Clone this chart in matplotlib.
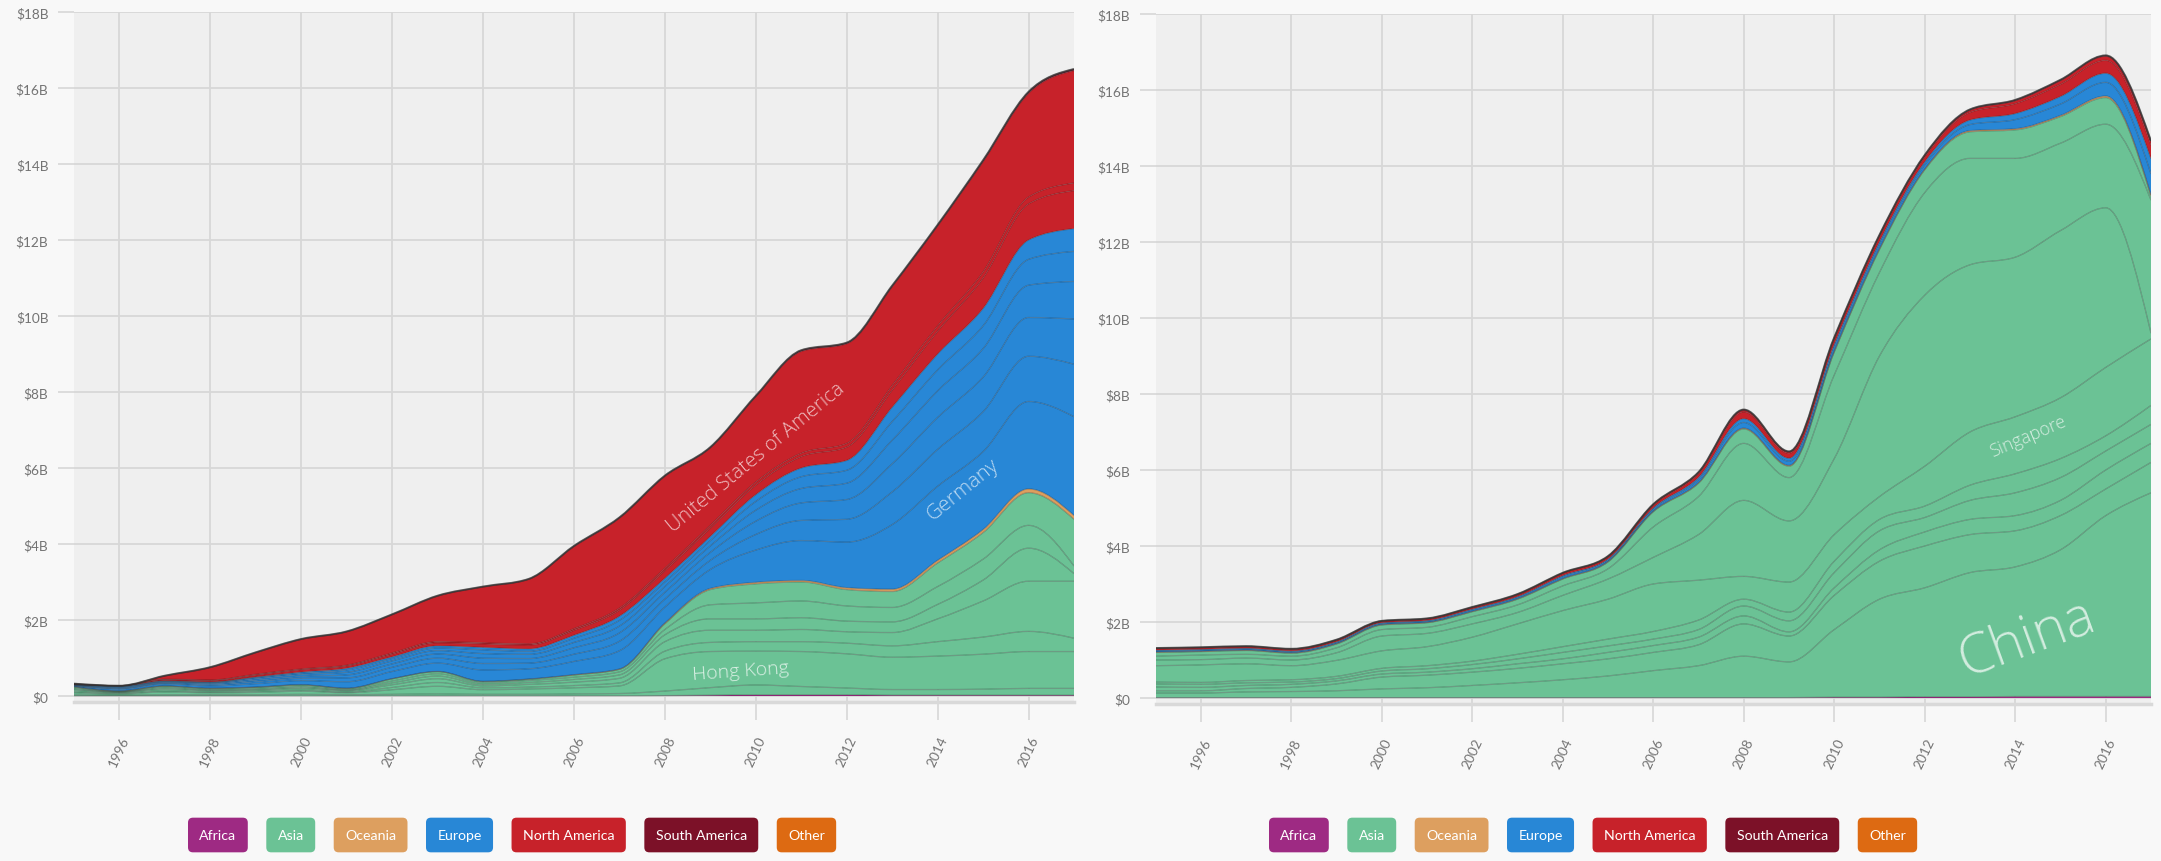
import numpy as np
import matplotlib
matplotlib.use("Agg")
import matplotlib.pyplot as plt
from matplotlib.path import Path
from matplotlib.patches import PathPatch

plt.rcParams['font.family'] = ['Lato', 'DejaVu Sans']

W, H = 2161, 862

years = list(range(1995, 2018))

continents = ['Africa', 'Asia', 'Oceania', 'Europe', 'North America', 'South America', 'Other']
colors = {'Africa': '#9e2a83', 'Asia': '#6bc295', 'Oceania': '#dd9f5f', 'Europe': '#2887d6',
          'North America': '#c7222a', 'South America': '#7c1128', 'Other': '#dd6a12'}

# ---- left chart, values in $B per year (1995..2017)
l_africa = [0.005, 0.005, 0.005, 0.005, 0.005, 0.005, 0.005, 0.005, 0.005, 0.005, 0.005, 0.005, 0.005, 0.01, 0.02, 0.03, 0.03, 0.03, 0.02, 0.02, 0.02, 0.02, 0.02]
l_japan = [.03, .02, .03, .03, .03, .04, .03, .04, .05, .04, .04, .05, .06, .12, .2, .26, .22, .18, .15, .15, .16, .18, .18]
l_hongkong = [.05, .03, .07, .05, .06, .08, .05, .12, .2, .12, .14, .16, .2, .85, .95, .89, .92, .9, .85, .88, .92, .97, .97]
l_korea = [.03, .02, .03, .02, .03, .03, .02, .06, .1, .05, .05, .06, .08, .2, .24, .25, .26, .28, .3, .38, .45, .53, .35]
l_taiwan = [.04, .02, .04, .03, .03, .04, .03, .07, .1, .05, .07, .09, .12, .25, .32, .3, .32, .3, .35, .6, .95, 1.32, 1.5]
l_india = [.03, .01, .03, .02, .02, .03, .02, .05, .07, .04, .05, .07, .09, .18, .3, .3, .31, .28, .28, .38, .55, .87, .2]
l_singapore = [.03, .01, .03, .02, .03, .03, .02, .05, .06, .04, .05, .06, .08, .14, .37, .42, .44, .4, .38, .47, .55, .6, .2]
l_china = [.025, .015, .025, .025, .025, .035, .025, .055, .055, .035, .035, .055, .065, .15, .4, .5, .5, .43, .42, .62, .7, .86, 1.23]
l_oceania = [.005, .005, .005, .005, .005, .005, .005, .005, .005, .005, .005, .01, .01, .02, .03, .04, .04, .05, .06, .07, .08, .1, .1]
l_germany = [.02, .04, .05, .06, .09, .11, .17, .19, .22, .3, .27, .35, .48, .42, .5, .85, 1.05, 1.2, 1.7, 1.95, 2.05, 2.3, 2.6]
l_uk = [.01, .02, .02, .03, .05, .06, .10, .11, .13, .17, .15, .19, .25, .21, .24, .41, .53, .60, .86, .97, 1.05, 1.19, 1.38]
l_france = [.01, .02, .02, .03, .04, .05, .08, .09, .11, .14, .12, .17, .22, .18, .21, .35, .46, .52, .74, .84, .91, 1.02, 1.19]
l_netherlands = [.01, .02, .02, .02, .04, .05, .07, .08, .09, .12, .11, .14, .18, .15, .17, .29, .38, .43, .62, .70, .75, .85, .99]
l_italy = [.005, .01, .01, .015, .03, .035, .06, .06, .07, .1, .08, .11, .15, .12, .14, .23, .31, .34, .49, .55, .60, .68, .79]
l_spain = [.005, .015, .015, .01, .015, .03, .045, .045, .055, .065, .065, .08, .11, .1, .11, .18, .23, .26, .38, .42, .46, .51, .60]
l_mexico = [.01, .01, .03, .04, .05, .06, .06, .07, .08, .09, .1, .13, .16, .2, .22, .25, .3, .35, .45, .6, .8, .95, 1.0]
l_canada = [0, 0, .01, .01, .02, .02, .02, .03, .03, .03, .03, .04, .05, .06, .07, .08, .09, .1, .12, .14, .16, .18, .2]
l_usa = [.01, 0, .09, .33, .57, .78, .88, 1.01, 1.2, 1.47, 1.7, 2.16, 2.37, 2.42, 2.04, 2.25, 2.68, 2.62, 2.6, 2.63, 2.9, 2.73, 2.96]
l_brazil = [0, 0, .005, .01, .01, .01, .01, .01, .01, .01, .01, .02, .02, .02, .02, .02, .03, .03, .03, .03, .04, .04, .04]

left_layers = [
    ('Africa', l_africa),
    ('Asia', l_japan), ('Asia', l_hongkong), ('Asia', l_korea), ('Asia', l_taiwan),
    ('Asia', l_india), ('Asia', l_singapore), ('Asia', l_china),
    ('Oceania', l_oceania),
    ('Europe', l_germany), ('Europe', l_uk), ('Europe', l_france), ('Europe', l_netherlands),
    ('Europe', l_italy), ('Europe', l_spain),
    ('North America', l_mexico), ('North America', l_canada), ('North America', l_usa),
    ('South America', l_brazil),
]

# ---- right chart
r_africa = [.01, .01, .01, .01, .01, .01, .01, .01, .01, .01, .01, .01, .01, .01, .01, .02, .02, .03, .03, .04, .04, .04, .04]
r_china = [.12, .12, .15, .16, .18, .23, .26, .32, .39, .47, .57, .71, .84, 1.09, .94, 1.78, 2.58, 2.87, 3.27, 3.41, 3.86, 4.76, 5.36]
r_korea = [.06, .06, .09, .11, .18, .31, .33, .35, .38, .42, .45, .48, .55, .85, .68, .9, 1.0, 1.1, 1.0, .95, .9, .7, .8]
r_japan = [.1, .09, .08, .08, .08, .08, .08, .09, .12, .13, .17, .18, .2, .21, .11, .2, .3, .37, .4, .4, .4, .5, .5]
r_malaysia = [.08, .08, .07, .06, .06, .08, .09, .11, .13, .17, .17, .17, .2, .26, .29, .4, .5, .38, .5, .6, .6, .5, .5]
r_thailand = [.05, .05, .06, .06, .06, .07, .08, .09, .12, .15, .18, .2, .25, .18, .23, .3, .3, .3, .4, .5, .5, .4, .5]
r_singapore = [.43, .46, .44, .37, .42, .46, .5, .63, .8, .95, 1.05, 1.25, 1.05, .6, .79, .7, .6, 1.05, 1.4, 1.5, 1.6, 1.8, 1.75]
r_hongkong = [.15, .14, .15, .15, .2, .39, .35, .35, .3, .4, .53, .7, 1.2, 2.0, 1.61, 2.0, 3.7, 4.5, 4.4, 4.2, 4.4, 4.2, .15]
r_taiwan = [.1, .12, .1, .1, .13, .17, .16, .19, .2, .25, .27, .8, 1.0, 1.5, 1.14, 2.2, 2.2, 2.7, 2.8, 2.6, 2.3, 2.2, 3.5]
r_india = [.1, .09, .1, .08, .1, .12, .12, .13, .15, .18, .18, .4, .35, .38, .3, .6, .6, .6, .7, .75, .7, .7, .1]
r_oceania = [.01, .01, .01, .01, .01, .01, .01, .01, .01, .01, .01, .01, .015, .02, .02, .02, .02, .02, .03, .03, .03, .04, .04]
r_germany = [.03, .03, .03, .03, .03, .03, .03, .04, .04, .05, .04, .05, .08, .15, .11, .11, .11, .11, .16, .24, .3, .36, .55]
r_uk = [.02, .02, .02, .02, .02, .02, .02, .02, .02, .03, .03, .04, .06, .1, .08, .08, .08, .08, .12, .16, .2, .24, .4]
r_usa = [.04, .04, .04, .04, .04, .035, .04, .04, .05, .06, .06, .07, .1, .18, .13, .13, .13, .13, .2, .26, .32, .34, .35]
r_canada = [.01, .01, .01, .01, .01, .01, .01, .01, .01, .01, .01, .02, .03, .05, .04, .04, .04, .04, .06, .08, .1, .11, .1]
r_brazil = [.005, .005, .005, .005, .005, .005, .005, .005, .005, .005, .005, .01, .01, .01, .01, .01, .01, .01, .02, .02, .02, .02, .02]

right_layers = [
    ('Africa', r_africa),
    ('Asia', r_china), ('Asia', r_korea), ('Asia', r_japan), ('Asia', r_malaysia),
    ('Asia', r_thailand), ('Asia', r_singapore), ('Asia', r_hongkong), ('Asia', r_taiwan),
    ('Asia', r_india),
    ('Oceania', r_oceania),
    ('Europe', r_germany), ('Europe', r_uk),
    ('North America', r_usa), ('North America', r_canada),
    ('South America', r_brazil),
]

ytick_vals = [0, 2, 4, 6, 8, 10, 12, 14, 16, 18]
ytick_labels = ['$0', '$2B', '$4B', '$6B', '$8B', '$10B', '$12B', '$14B', '$16B', '$18B']
xtick_vals = [1996, 1998, 2000, 2002, 2004, 2006, 2008, 2010, 2012, 2014, 2016]


# monotone cubic (like d3.curveMonotoneX) -> bezier segments
def slopes(x, y):
    n = len(x)
    h = np.diff(x)
    s = np.diff(y) / h
    m = np.zeros(n)
    for i in range(1, n - 1):
        p = (s[i - 1] * h[i] + s[i] * h[i - 1]) / (h[i - 1] + h[i])
        m[i] = (np.sign(s[i - 1]) + np.sign(s[i])) * min(abs(s[i - 1]), abs(s[i]), 0.5 * abs(p))
    m[0] = (3 * s[0] - m[1]) / 2
    m[-1] = (3 * s[-1] - m[-2]) / 2
    return m


def segments(x, y):
    m = slopes(x, y)
    out = []
    for i in range(len(x) - 1):
        h = (x[i + 1] - x[i]) / 3
        out += [(x[i] + h, y[i] + m[i] * h), (x[i + 1] - h, y[i + 1] - m[i + 1] * h), (x[i + 1], y[i + 1])]
    return out


def curve(x, y):
    v = [(x[0], y[0])] + segments(x, y)
    c = [Path.MOVETO] + [Path.CURVE4] * (len(v) - 1)
    return Path(v, c)


def band(x, lo, hi):
    up = segments(x, hi)
    dn = segments(x[::-1], lo[::-1])
    v = [(x[0], hi[0])] + up + [(x[-1], lo[-1])] + dn + [(x[0], hi[0])]
    c = [Path.MOVETO] + [Path.CURVE4] * len(up) + [Path.LINETO] + [Path.CURVE4] * len(dn) + [Path.CLOSEPOLY]
    return Path(v, c)


def draw_stack(ax, layers):
    x = np.array(years, dtype=float)
    base = np.zeros(len(x))
    for cont, vals in layers:
        top = base + np.array(vals, dtype=float)
        ax.add_patch(PathPatch(band(x, base, top), fc=colors[cont], ec='none', zorder=2))
        ax.add_patch(PathPatch(curve(x, top), fc='none', ec=(0.1, 0.1, 0.1, 0.27), lw=0.9, zorder=3))
        base = top
    ax.add_patch(PathPatch(curve(x, base), fc='none', ec=(0.2, 0.2, 0.2, 0.75), lw=1.4, zorder=3))


def style_axes(ax):
    ax.set_facecolor('#efefef')
    ax.set_xlim(1995, 2017)
    ax.set_ylim(-6 / 38, 18)
    ax.set_xticks(xtick_vals)
    ax.set_xticklabels([str(v) for v in xtick_vals])
    ax.set_yticks(ytick_vals)
    ax.set_yticklabels(ytick_labels)
    ax.grid(True, color='#d7d7d7', lw=1.3)
    ax.set_axisbelow(True)
    for s in ['left', 'right', 'top']:
        ax.spines[s].set_visible(False)
    ax.spines['bottom'].set_color('#d9d9d9')
    ax.spines['bottom'].set_linewidth(2.5)
    ax.tick_params(axis='x', length=13, width=1.1, color='#d4d4d4', pad=10,
                   labelsize=9.8, labelcolor='#737373', labelrotation=65)
    ax.tick_params(axis='y', length=11.5, width=1.1, color='#d4d4d4', pad=7,
                   labelsize=9.8, labelcolor='#737373')


fig = plt.figure(figsize=(W / 100, H / 100), dpi=100, facecolor='#f8f8f8')
ax1 = fig.add_axes([74 / W, 1 - 703 / H, 1000 / W, 690 / H])
ax2 = fig.add_axes([1155.5 / W, 1 - 705 / H, 995.5 / W, 690 / H])

for ax, layers in [(ax1, left_layers), (ax2, right_layers)]:
    style_axes(ax)
    draw_stack(ax, layers)

lab = dict(family=['Open Sans', 'DejaVu Sans'], fontweight='light', ha='center', va='center',
           rotation_mode='anchor', zorder=4)
ax1.text(2010.0, 6.3, 'United States of America', fontsize=14.5, rotation=39.5, color=(1, 1, 1, 0.7), **lab)
ax1.text(2014.55, 5.45, 'Germany', fontsize=15, rotation=39, color=(1, 1, 1, 0.7), **lab)
ax1.text(2009.66, 0.66, 'Hong Kong', fontsize=14, rotation=4, color=(1, 1, 1, 0.75), **lab)
ax2.text(2014.28, 6.9, 'Singapore', fontsize=13, rotation=23, color=(1, 1, 1, 0.7), **lab)
ax2.text(2014.26, 1.6, 'China', fontsize=40, rotation=20, color=(1, 1, 1, 0.7), **lab)

# legend buttons
renderer = fig.canvas.get_renderer()
fs = 10.2
pad = 0.8
pad_px = pad * fs * 100 / 72
for x0 in [188, 1269]:
    x = x0
    for name in continents:
        t = fig.text((x + pad_px) / W, 1 - 836 / H, name, color='white', fontsize=fs,
                     ha='left', va='center',
                     bbox=dict(boxstyle='round,pad=%s,rounding_size=0.35' % pad, fc=colors[name], ec='none'))
        tw = t.get_window_extent(renderer).width
        x += tw + 2 * pad_px + 18.5

fig.savefig('out.png', dpi=100, facecolor=fig.get_facecolor())
